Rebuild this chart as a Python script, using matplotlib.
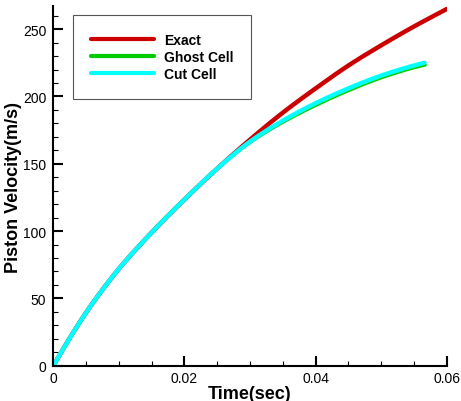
import numpy as np
import matplotlib
matplotlib.use('Agg')
from matplotlib import pyplot as plt
from matplotlib.ticker import MultipleLocator

plt.rcParams['font.family'] = ['Liberation Sans', 'DejaVu Sans']

# values
t_exact = [0, 0.0025, 0.005, 0.0075, 0.01, 0.015, 0.02, 0.025, 0.03, 0.035,
           0.04, 0.045, 0.05, 0.055, 0.06]
v_exact = [0, 20.5, 39.5, 56.5, 72, 99, 123.5, 146.5, 168, 188,
           206, 223, 238, 252, 265]

t_cut = [0, 0.0025, 0.005, 0.0075, 0.01, 0.015, 0.02, 0.025, 0.03, 0.035,
         0.04, 0.045, 0.05, 0.055, 0.0566]
v_cut = [0, 20.5, 39.5, 56.5, 72, 99, 123.5, 146.5, 166.5, 182,
         195, 206, 215.5, 223, 225]

t_ghost = [0, 0.0025, 0.005, 0.0075, 0.01, 0.015, 0.02, 0.025, 0.03, 0.035,
           0.04, 0.045, 0.05, 0.055, 0.0567]
v_ghost = [0, 20.5, 39.5, 56.5, 72, 99, 123.5, 146.5, 166, 181,
           193.5, 204.5, 214, 221.5, 223.5]


def curve(t, v, n=30):
    # monotone cubic (Fritsch-Carlson) through the read points, for a smooth line
    t = np.asarray(t, float)
    v = np.asarray(v, float)
    h = np.diff(t)
    d = np.diff(v) / h
    m = np.zeros_like(v)
    m[0], m[-1] = d[0], d[-1]
    for i in range(1, len(v) - 1):
        w1 = 2 * h[i] + h[i - 1]
        w2 = h[i] + 2 * h[i - 1]
        m[i] = (w1 + w2) / (w1 / d[i - 1] + w2 / d[i])
    m[0] = (3 * d[0] - m[1]) / 2
    xs, ys = [], []
    s = np.linspace(0, 1, n, endpoint=False)
    for i in range(len(h)):
        h00 = 2 * s ** 3 - 3 * s ** 2 + 1
        h10 = s ** 3 - 2 * s ** 2 + s
        h01 = -2 * s ** 3 + 3 * s ** 2
        h11 = s ** 3 - s ** 2
        xs.extend(t[i] + s * h[i])
        ys.extend(h00 * v[i] + h10 * h[i] * m[i] + h01 * v[i + 1] + h11 * h[i] * m[i + 1])
    xs.append(t[-1])
    ys.append(v[-1])
    return xs, ys


fig = plt.figure(figsize=(4.61, 4.02), dpi=100)
ax = fig.add_axes([0.1157, 0.0878, 0.8533, 0.894])

x, y = curve(t_exact, v_exact)
ax.plot(x, y, color='#cc0000', lw=3.2, label='Exact', solid_capstyle='round')
x, y = curve(t_ghost, v_ghost)
ax.plot(x, y, color='#00cc00', lw=2.6, label='Ghost Cell', solid_capstyle='round')
x, y = curve(t_cut, v_cut)
ax.plot(x, y, color='#00ffff', lw=3.2, label='Cut Cell', solid_capstyle='round')

ax.set_xlim(0, 0.06)
ax.set_ylim(0, 267)
ax.set_xticks([0, 0.02, 0.04, 0.06])
ax.set_xticklabels(['0', '0.02', '0.04', '0.06'])
ax.set_yticks([0, 50, 100, 150, 200, 250])
ax.xaxis.set_minor_locator(MultipleLocator(0.005))
ax.yaxis.set_minor_locator(MultipleLocator(10))

for side in ['top', 'right']:
    ax.spines[side].set_visible(False)
for side in ['left', 'bottom']:
    ax.spines[side].set_linewidth(1.5)

ax.tick_params(which='major', direction='in', length=7, width=1.5, labelsize=10, pad=4)
ax.tick_params(which='minor', direction='in', length=3.5, width=0.8)
ax.tick_params(axis='y', which='major', pad=5)

ax.set_xlabel('Time(sec)', fontsize=13, fontweight='bold', labelpad=0)
ax.set_ylabel('Piston Velocity(m/s)', fontsize=13, fontweight='bold', labelpad=1)

leg = ax.legend(loc='upper left', bbox_to_anchor=(0.051, 0.975), fancybox=False,
                edgecolor='#555555', framealpha=1, borderpad=1.3, handlelength=4.5,
                handletextpad=0.7, labelspacing=0.2, borderaxespad=0,
                prop={'weight': 'bold', 'size': 10})
leg.get_frame().set_linewidth(0.8)
for line in leg.get_lines():
    line.set_linewidth(3)

fig.savefig('out.png', dpi=100)
